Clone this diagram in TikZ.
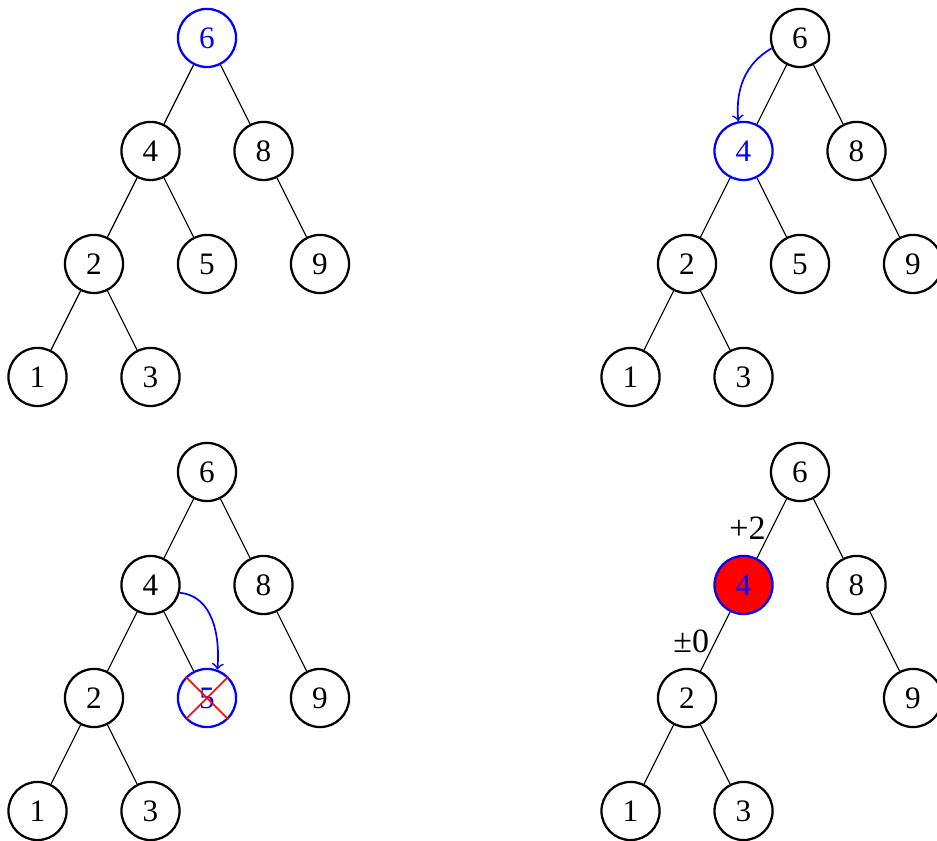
\documentclass[tikz,border=0pt]{standalone}
\usepackage{fontspec}
\setmainfont{Liberation Serif}
\usetikzlibrary{trees}

\begin{document}
\begin{tikzpicture}[
  x=1.4cm, y=1.4cm,
  level distance=14mm,
  sibling distance=14mm,
  treenode/.style={
    draw,
    circle,
    thick,
    minimum size=7.2mm,
    inner sep=0pt,
    font=\fontsize{11}{13}\selectfont
  },
  hilite/.style={
    treenode,
    draw=blue,
    text=blue
  },
  current/.style={
    hilite,
    fill=red
  },
  move/.style={->, blue, semithick},
  balance/.style={left, inner sep=2pt, font=\fontsize{12}{14}\selectfont}
]
\useasboundingbox (0,0) rectangle (8.292,-7.442);

% Step 1: start at the root
\node[hilite] (a6) at (1.832,-0.336) {6}
  child { node[treenode] (a4) {4}
    child { node[treenode] (a2) {2}
      child { node[treenode] (a1) {1}}
      child { node[treenode] (a3) {3}}
    }
    child { node[treenode] (a5) {5}}
  }
  child { node[treenode] (a8) {8}
    child[missing]
    child { node[treenode] (a9) {9}}
  };

% Step 2: go left
\node[treenode] (b6) at (7.080,-0.336) {6}
  child { node[hilite] (b4) {4}
    child { node[treenode] (b2) {2}
      child { node[treenode] (b1) {1}}
      child { node[treenode] (b3) {3}}
    }
    child { node[treenode] (b5) {5}}
  }
  child { node[treenode] (b8) {8}
    child[missing]
    child { node[treenode] (b9) {9}}
  };
\draw[move] (b6.200) to[out=210,in=95] (b4.100);

% Step 3: delete the leaf
\node[treenode] (c6) at (1.832,-4.177) {6}
  child { node[treenode] (c4) {4}
    child { node[treenode] (c2) {2}
      child { node[treenode] (c1) {1}}
      child { node[treenode] (c3) {3}}
    }
    child { node[hilite] (c5) {5}}
  }
  child { node[treenode] (c8) {8}
    child[missing]
    child { node[treenode] (c9) {9}}
  };
\draw[move] (c4.-15) to[out=-5,in=85] (c5.70);
\draw[red, semithick] (c5.45) -- (c5.225) (c5.135) -- (c5.315);

% Step 4: update balance
\node[treenode] (d6) at (7.080,-4.177) {6}
  child { node[current] (d4) {4}
    child { node[treenode] (d2) {2}
      child { node[treenode] (d1) {1}}
      child { node[treenode] (d3) {3}}
      edge from parent node[balance] {±0}
    }
    child[missing]
    edge from parent node[balance] {+2}
  }
  child { node[treenode] (d8) {8}
    child[missing]
    child { node[treenode] (d9) {9}}
  };
\end{tikzpicture}
\end{document}
